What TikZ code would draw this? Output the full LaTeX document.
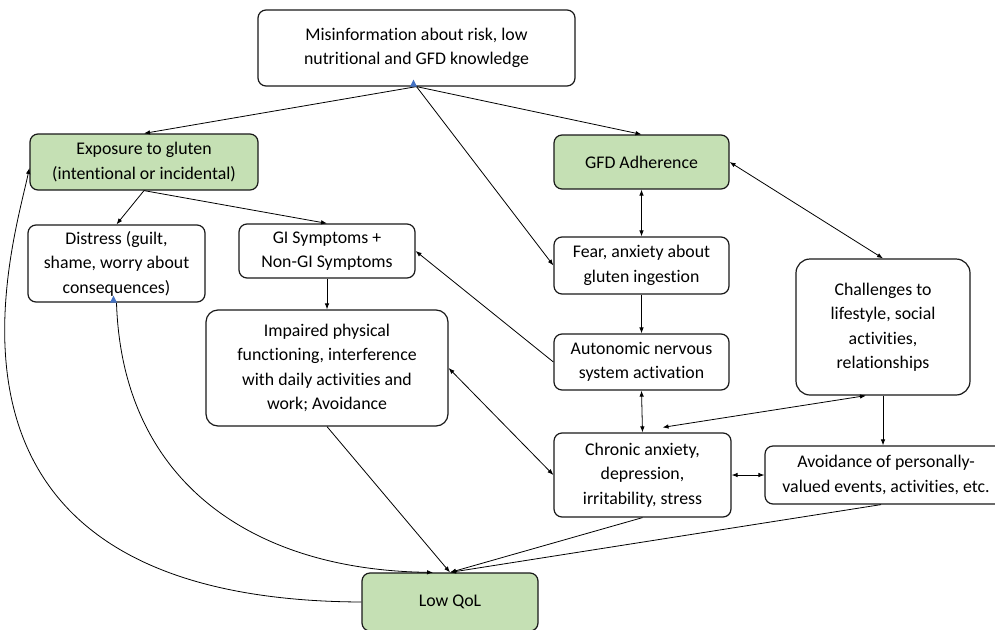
\documentclass[tikz,border=0pt]{standalone}
\usepackage{fontspec}
\setmainfont{Carlito}[Ligatures={NoCommon}]
\usetikzlibrary{arrows.meta}
\definecolor{boxgreen}{RGB}{197,224,180}
\definecolor{tipblue}{RGB}{68,114,196}
\begin{document}
\begin{tikzpicture}[x=1pt,y=-1pt,
  box/.style={draw=black!90, line width=1.2pt, rounded corners=8pt, align=center, inner sep=0pt,
    font=\fontsize{17.8}{24.5}\selectfont, fill=white},
  gbox/.style={box, fill=boxgreen},
  tipk/.tip={Latex[length=6pt,width=4.5pt]},
  conn/.style={line width=0.8pt, -tipk},
  bi/.style={line width=0.8pt, tipk-tipk},
]
\useasboundingbox (0,0) rectangle (995,629);

\node[box, minimum width=317pt, minimum height=76pt] (mis) at (416.5,48) {Misinformation about risk, low\\nutritional and GFD knowledge};
\node[gbox, minimum width=228pt, minimum height=56pt] (exp) at (144,162) {Exposure to gluten\\(intentional or incidental)};
\node[gbox, minimum width=175pt, minimum height=54pt] (gfd) at (641.5,162) {GFD Adherence};
\node[box, minimum width=177pt, minimum height=77pt] (dis) at (116.5,263.5) {Distress (guilt,\\shame, worry about\\consequences)};
\node[box, minimum width=176pt, minimum height=54pt] (gi) at (327,251) {GI Symptoms +\\Non-GI Symptoms};
\node[box, minimum width=175pt, minimum height=57pt] (fear) at (641.5,265.5) {Fear, anxiety about\\gluten ingestion};
\node[box, minimum width=174pt, minimum height=136pt, rounded corners=14pt] (chal) at (883,327) {Challenges to\\lifestyle, social\\activities,\\relationships};
\node[box, minimum width=242pt, minimum height=116pt, rounded corners=12pt] (imp) at (327,368) {Impaired physical\\functioning, interference\\with daily activities and\\work; Avoidance};
\node[box, minimum width=175pt, minimum height=56pt] (auto) at (641.5,362) {Autonomic nervous\\system activation};
\node[box, minimum width=177pt, minimum height=84pt] (chr) at (642.5,475) {Chronic anxiety,\\depression,\\irritability, stress};
\node[box, minimum width=242pt, minimum height=58pt] (avo) at (886,475) {Avoidance of personally-\\valued events, activities, etc.};
\node[gbox, minimum width=176pt, minimum height=58pt] (qol) at (450,602) {Low QoL};

% connectors
\draw[conn] (mis.south) -- (exp.north);
\draw[conn] (mis.south) -- (gfd.north);
\draw[conn] (mis.south) -- (fear.west);
\draw[conn] (exp.south) -- (dis.north);
\draw[conn] (exp.south) -- (gi.north);
\draw[conn] (gi.south) -- (imp.north);
\draw[conn] (auto.west) -- (gi.east);
\draw[bi] (imp.east) -- (chr.west);
\draw[bi] (gfd.south) -- (fear.north);
\draw[conn] (fear.south) -- (auto.north);
\draw[bi] (auto.south) -- (chr.north);
\draw[bi] (gfd.east) -- (chal.north);
\draw[bi] ([xshift=-17pt]chal.south) -- ([xshift=20pt,yshift=5pt]chr.north);
\draw[conn] (chal.south) -- (chal.south |- avo.north);
\draw[bi] (chr.east) -- (avo.west);
\draw[conn] (chr.south) -- (qol.north);
\draw[conn] ([xshift=-5pt]avo.south) -- (qol.north);
\draw[conn] (imp.south) -- (qol.north);
\draw[conn] (dis.south) .. controls (122,480) and (250,570) .. ([xshift=-17pt]qol.north);
\draw[conn] (qol.west) .. controls (-100,600) and (12,250) .. ([yshift=-6pt]exp.west);

% small blue tips
\fill[tipblue] ([xshift=-3pt]mis.south) ++(-3.5,0) -- ++(3.5,-7) -- ++(3.5,7) -- cycle;
\fill[tipblue] ([xshift=-3pt]dis.south) ++(-3.5,0) -- ++(3.5,-7) -- ++(3.5,7) -- cycle;
\end{tikzpicture}
\end{document}
